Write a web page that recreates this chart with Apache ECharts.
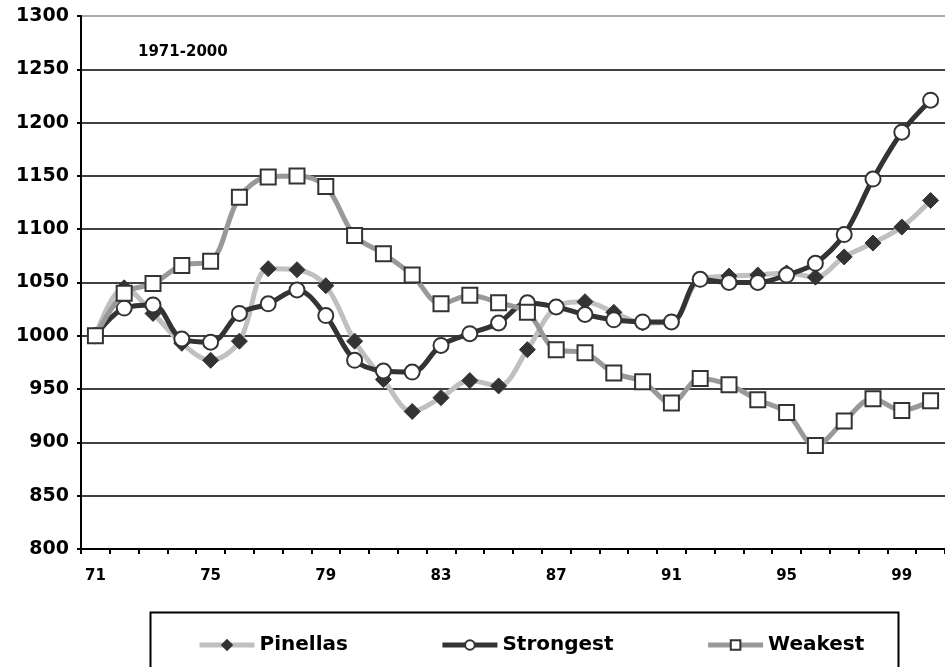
<!DOCTYPE html>
<html>
<head>
<meta charset="utf-8">
<title>1971-2000</title>
<script src="https://cdn.jsdelivr.net/npm/echarts@6/dist/echarts.min.js"></script>
<style>
  html, body { margin: 0; padding: 0; background: #fff; }
  #chart { width: 945px; height: 667px; }
</style>
</head>
<body>
<div id="chart"></div>
<script>
// years 1971-2000, shown as two digits
var years = ['71','72','73','74','75','76','77','78','79','80',
             '81','82','83','84','85','86','87','88','89','90',
             '91','92','93','94','95','96','97','98','99','00'];

var pinellas = [1000, 1045, 1021, 993, 977, 995, 1063, 1062, 1047, 995,
                959, 929, 942, 958, 953, 987, 1027, 1032, 1022, 1012,
                1013, 1053, 1056, 1057, 1059, 1055, 1074, 1087, 1102, 1127];

var strongest = [1000, 1026, 1029, 997, 994, 1021, 1030, 1043, 1019, 977,
                 967, 966, 991, 1002, 1012, 1031, 1027, 1020, 1015, 1013,
                 1013, 1053, 1050, 1050, 1057, 1068, 1095, 1147, 1191, 1221];

var weakest = [1000, 1040, 1049, 1066, 1070, 1130, 1149, 1150, 1140, 1094,
               1077, 1057, 1030, 1038, 1031, 1022, 987, 984, 965, 957,
               937, 960, 954, 940, 928, 897, 920, 941, 930, 939];

var yTicks = [800, 850, 900, 950, 1000, 1050, 1100, 1150, 1200, 1250, 1300];

var font = '"DejaVu Sans", "Liberation Sans", Arial, sans-serif';

// grid lines black, the top one grey
var splitColors = yTicks.map(function (v) {
    return v === 1300 ? '#8c8c8c' : '#000000';
});

var chartDom = document.getElementById('chart');
var myChart = echarts.init(chartDom);
var option;

option = {
    animation: false,
    backgroundColor: '#ffffff',
    grid: {
        left: 81,
        top: 16,
        width: 870,
        height: 533
    },
    graphic: [
        {
            type: 'text',
            left: 138,
            top: 45,
            style: {
                text: '1971-2000',
                font: 'bold 15px ' + font,
                fill: '#000'
            }
        },
        {
            // legend frame
            type: 'rect',
            left: 148,
            top: 610,
            shape: { width: 748, height: 80 },
            style: { fill: 'none', stroke: '#000', lineWidth: 2 },
            z: 1
        }
    ],
    legend: {
        left: 192,
        top: 630,
        itemWidth: 55,
        itemHeight: 12,
        itemGap: 92,
        lineStyle: { width: 5 },
        textStyle: {
            fontFamily: font,
            fontWeight: 'bold',
            fontSize: 20,
            color: '#000'
        },
        data: ['Pinellas', 'Strongest', 'Weakest']
    },
    xAxis: {
        type: 'category',
        data: years,
        boundaryGap: true,
        axisLine: { lineStyle: { color: '#000', width: 2 } },
        axisTick: {
            show: true,
            interval: 0,
            length: 5,
            lineStyle: { color: '#000', width: 2 }
        },
        axisLabel: {
            interval: 3,
            margin: 20,
            color: '#000',
            fontFamily: font,
            fontWeight: 'bold',
            fontSize: 15
        },
        splitLine: { show: false }
    },
    yAxis: {
        type: 'value',
        min: 800,
        max: 1300,
        interval: 50,
        axisLine: { show: true, lineStyle: { color: '#000', width: 2 } },
        axisTick: { show: true, length: 4, lineStyle: { color: '#000', width: 2 } },
        axisLabel: {
            margin: 12,
            color: '#000',
            fontFamily: font,
            fontWeight: 'bold',
            fontSize: 19,
            formatter: function (v) { return String(v); }
        },
        splitLine: { show: true, lineStyle: { color: splitColors, width: 1.5 } }
    },
    series: [
        {
            name: 'Pinellas',
            type: 'line',
            data: pinellas,
            smooth: 0.35,
            symbol: 'diamond',
            symbolSize: 16,
            lineStyle: { color: '#c0c0c0', width: 5 },
            itemStyle: { color: '#333333', borderColor: '#333333', borderWidth: 1 },
            z: 3
        },
        {
            name: 'Strongest',
            type: 'line',
            data: strongest,
            smooth: 0.35,
            symbol: 'circle',
            symbolSize: 15,
            lineStyle: { color: '#333333', width: 5 },
            itemStyle: { color: '#ffffff', borderColor: '#333333', borderWidth: 2 },
            z: 4
        },
        {
            name: 'Weakest',
            type: 'line',
            data: weakest,
            smooth: 0.35,
            symbol: 'rect',
            symbolSize: 15,
            lineStyle: { color: '#999999', width: 5 },
            itemStyle: { color: '#ffffff', borderColor: '#333333', borderWidth: 2 },
            z: 5
        }
    ]
};

option && myChart.setOption(option);
</script>
</body>
</html>
